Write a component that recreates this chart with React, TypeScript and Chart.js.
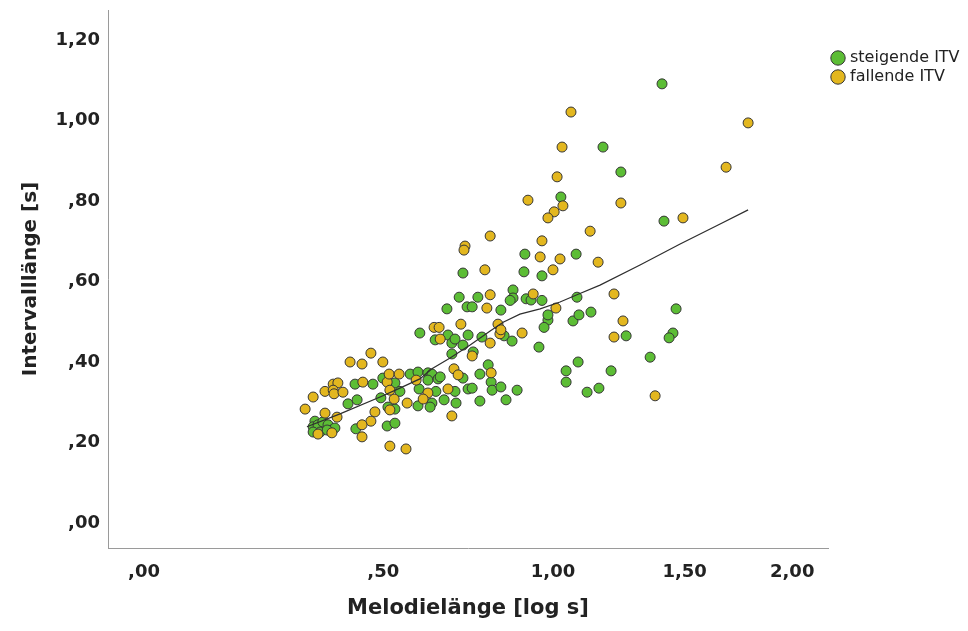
import React, { useEffect, useRef } from "react";
import { Chart, registerables, LinearScale } from "chart.js";

// Melodielänge (log s) vs. Intervalllänge (s), rising and falling intervals
const GREEN_X = [
  0.430, 0.474, 0.413, 0.435, 0.494, 0.499, 0.530, 0.543, 0.570, 0.591,
  0.596, 0.512, 0.530, 0.591, 0.510, 0.530, 0.432, 0.336, 0.332, 0.343,
  0.354, 0.366, 0.375, 0.382, 0.332, 0.348, 0.364, 0.674, 0.685, 0.694,
  0.717, 0.732, 0.773, 0.841, 0.866, 0.953, 0.685, 0.747, 0.618, 0.629,
  0.618, 0.646, 0.652, 0.717, 0.767, 0.792, 0.801, 0.804, 0.831, 0.882,
  0.732, 0.744, 0.694, 0.640, 0.594, 0.663, 0.697, 0.767, 0.847, 0.629,
  0.624, 0.983, 0.970, 1.069, 1.264, 1.358, 1.087, 1.045, 1.045, 1.207,
  1.162, 1.119, 0.907, 0.904, 0.963, 0.717, 0.706, 0.761, 0.869, 0.869,
  0.860, 0.911, 0.927, 0.963, 0.729, 0.744, 0.671, 0.831, 0.983, 0.638,
  1.080, 1.083, 1.090, 1.133, 1.464, 1.451, 1.435, 1.406, 1.414, 1.177,
  1.244, 1.027,
];
const GREEN_Y = [
  0.345, 0.345, 0.296, 0.306, 0.311, 0.360, 0.348, 0.327, 0.370, 0.375,
  0.472, 0.288, 0.283, 0.291, 0.241, 0.248, 0.234, 0.253, 0.239, 0.244,
  0.251, 0.244, 0.231, 0.236, 0.226, 0.226, 0.231, 0.467, 0.447, 0.457,
  0.442, 0.467, 0.462, 0.465, 0.452, 0.437, 0.420, 0.425, 0.373, 0.370,
  0.355, 0.358, 0.363, 0.360, 0.370, 0.393, 0.350, 0.330, 0.338, 0.330,
  0.333, 0.335, 0.327, 0.327, 0.333, 0.306, 0.298, 0.303, 0.306, 0.298,
  0.288, 0.504, 0.486, 0.502, 0.465, 0.412, 0.400, 0.378, 0.350, 0.378,
  0.335, 0.325, 0.668, 0.624, 0.614, 0.621, 0.561, 0.561, 0.579, 0.559,
  0.553, 0.557, 0.554, 0.553, 0.537, 0.537, 0.532, 0.529, 0.517, 0.455,
  0.668, 0.561, 0.517, 0.524, 0.532, 0.472, 0.460, 1.091, 0.750, 0.934,
  0.872, 0.810,
];

const YELLOW_X = [
  0.469, 0.418, 0.447, 0.499, 0.359, 0.378, 0.389, 0.378, 0.380, 0.401,
  0.449, 0.332, 0.314, 0.359, 0.387, 0.479, 0.469, 0.447, 0.447, 0.517,
  0.559, 0.343, 0.375, 0.517, 0.528, 0.562, 0.510, 0.515, 0.541, 0.517,
  0.586, 0.828, 0.798, 0.898, 0.744, 0.691, 0.703, 0.801, 0.674, 0.618,
  0.605, 0.685, 0.652, 1.252, 1.218, 1.378, 0.798, 0.723, 0.720, 0.963,
  0.957, 0.782, 0.798, 0.788, 0.934, 0.711, 0.822, 0.831, 0.635, 0.649,
  1.130, 1.024, 1.000, 1.159, 1.218, 1.010, 1.784, 1.682, 1.493, 1.062,
  1.031, 1.014, 0.917, 1.034, 1.004, 0.983, 1.244,
];
const YELLOW_Y = [
  0.422, 0.400, 0.395, 0.400, 0.327, 0.345, 0.348, 0.330, 0.321, 0.325,
  0.350, 0.313, 0.283, 0.273, 0.263, 0.276, 0.253, 0.244, 0.214, 0.191,
  0.184, 0.221, 0.224, 0.281, 0.308, 0.298, 0.350, 0.370, 0.370, 0.330,
  0.355, 0.470, 0.447, 0.472, 0.415, 0.383, 0.368, 0.373, 0.333, 0.323,
  0.308, 0.266, 0.457, 0.502, 0.462, 0.316, 0.713, 0.688, 0.678, 0.701,
  0.661, 0.629, 0.567, 0.534, 0.569, 0.494, 0.494, 0.480, 0.486, 0.486,
  0.725, 0.656, 0.629, 0.648, 0.569, 0.534, 0.994, 0.884, 0.758, 1.021,
  0.934, 0.860, 0.802, 0.788, 0.773, 0.758, 0.795,
];

// Loess fit over all intervals
const LOESS_X = [
  0.318, 0.394, 0.492, 0.543, 0.596, 0.629, 0.680, 0.738, 0.798, 0.838,
  0.891, 0.957, 1.024, 1.083, 1.166, 1.318, 1.481, 1.655, 1.784,
];
const LOESS_Y = [
  0.239, 0.271, 0.313, 0.335, 0.358, 0.383, 0.410, 0.442, 0.477, 0.499,
  0.519, 0.532, 0.549, 0.567, 0.591, 0.641, 0.693, 0.743, 0.778,
];

const X_TICKS = [0, 0.5, 1, 1.5, 2];
const X_TICK_LABELS = [",00", ",50", "1,00", "1,50", "2,00"];
const Y_TICKS = [0, 0.2, 0.4, 0.6, 0.8, 1.0, 1.2];
const Y_TICK_LABELS = [",00", ",20", ",40", ",60", ",80", "1,00", "1,20"];

const SERIES_LABELS = ["steigende ITV", "fallende ITV"];
const GREEN = "#5cbd35";
const YELLOW = "#e3b71f";
const OUTLINE = "#353535";
const FONT = '"DejaVu Sans", sans-serif';

// "Safe log" axis: positions follow ln(1 + x)
class SafeLogScale extends LinearScale {
  static id = "safeLog";
  static defaults = LinearScale.defaults;
  getPixelForValue(value: number) {
    const a = Math.log1p(this.min);
    const b = Math.log1p(this.max);
    return this.getPixelForDecimal((Math.log1p(value) - a) / (b - a));
  }
  getValueForPixel(pixel: number) {
    const a = Math.log1p(this.min);
    const b = Math.log1p(this.max);
    return Math.expm1(a + this.getDecimalForPixel(pixel) * (b - a));
  }
}

Chart.register(...registerables, SafeLogScale);

const toPoints = (xs: number[], ys: number[]) => xs.map((x, i) => ({ x, y: ys[i] }));

const sideLegend = {
  id: "sideLegend",
  afterDraw(chart: any) {
    const { ctx } = chart;
    const rows = [
      { label: SERIES_LABELS[0], color: GREEN, y: 58 },
      { label: SERIES_LABELS[1], color: YELLOW, y: 77 },
    ];
    ctx.save();
    ctx.font = `16px ${FONT}`;
    ctx.textBaseline = "middle";
    ctx.textAlign = "left";
    for (const r of rows) {
      ctx.beginPath();
      ctx.arc(838, r.y, 7.2, 0, Math.PI * 2);
      ctx.fillStyle = r.color;
      ctx.fill();
      ctx.lineWidth = 1;
      ctx.strokeStyle = OUTLINE;
      ctx.stroke();
      ctx.fillStyle = "#222";
      ctx.fillText(r.label, 850, r.y);
    }
    ctx.restore();
  },
};

export default function App() {
  const canvasRef = useRef<HTMLCanvasElement>(null);

  useEffect(() => {
    if (!canvasRef.current) return;
    const pointStyle = {
      pointRadius: 5,
      pointBorderWidth: 1,
      pointBorderColor: OUTLINE,
      showLine: false,
    };
    const chart = new Chart(canvasRef.current, {
      type: "scatter",
      data: {
        datasets: [
          {
            type: "line",
            label: "Loess",
            data: toPoints(LOESS_X, LOESS_Y),
            borderColor: "#2e2e2e",
            borderWidth: 1.2,
            pointRadius: 0,
            tension: 0,
            fill: false,
            order: 0,
          } as any,
          {
            label: SERIES_LABELS[1],
            data: toPoints(YELLOW_X, YELLOW_Y),
            pointBackgroundColor: YELLOW,
            backgroundColor: YELLOW,
            ...pointStyle,
            order: 1,
          },
          {
            label: SERIES_LABELS[0],
            data: toPoints(GREEN_X, GREEN_Y),
            pointBackgroundColor: GREEN,
            backgroundColor: GREEN,
            ...pointStyle,
            order: 2,
          },
        ],
      },
      options: {
        responsive: false,
        animation: false,
        events: [],
        layout: { padding: { top: 10, right: 140, bottom: 0, left: 0 } },
        plugins: {
          legend: { display: false },
          tooltip: { enabled: false },
        },
        scales: {
          x: {
            type: "safeLog" as any,
            min: -0.0592,
            max: 2.1876,
            afterBuildTicks: (scale: any) => {
              scale.ticks = X_TICKS.map((value) => ({ value }));
            },
            afterFit: (scale: any) => {
              scale.height = 83;
              scale.paddingLeft = 0;
              scale.paddingRight = 0;
            },
            grid: { display: false, drawTicks: false },
            border: { display: true, color: "#9a9a9a", width: 1 },
            ticks: {
              padding: 14,
              color: "#222",
              font: { family: FONT, size: 18, weight: "bold" },
              maxRotation: 0,
              autoSkip: false,
              callback: (_v: any, i: number) => X_TICK_LABELS[i],
            },
            title: {
              display: true,
              text: "Melodielänge [log s]",
              color: "#222",
              font: { family: FONT, size: 21, weight: "bold" },
              padding: { top: 0, bottom: 10 },
            },
          },
          y: {
            type: "linear",
            min: -0.0621,
            max: 1.2745,
            afterBuildTicks: (scale: any) => {
              scale.ticks = Y_TICKS.map((value) => ({ value }));
            },
            afterFit: (scale: any) => {
              scale.width = 108;
              scale.paddingTop = 0;
              scale.paddingBottom = 0;
            },
            grid: { display: false, drawTicks: false },
            border: { display: true, color: "#9a9a9a", width: 1 },
            ticks: {
              padding: 8,
              color: "#222",
              font: { family: FONT, size: 18, weight: "bold" },
              autoSkip: false,
              callback: (_v: any, i: number) => Y_TICK_LABELS[i],
            },
            title: {
              display: true,
              text: "Intervalllänge [s]",
              color: "#222",
              font: { family: FONT, size: 20, weight: "bold" },
              padding: { top: 19, bottom: 0 },
            },
          },
        },
      },
      plugins: [sideLegend],
    } as any);
    return () => chart.destroy();
  }, []);

  return (
    <div
      style={{
        position: "absolute",
        left: 0,
        top: 0,
        width: 968,
        height: 631,
        background: "#fff",
      }}
    >
      <canvas ref={canvasRef} width={968} height={631} style={{ display: "block" }} />
    </div>
  );
}
